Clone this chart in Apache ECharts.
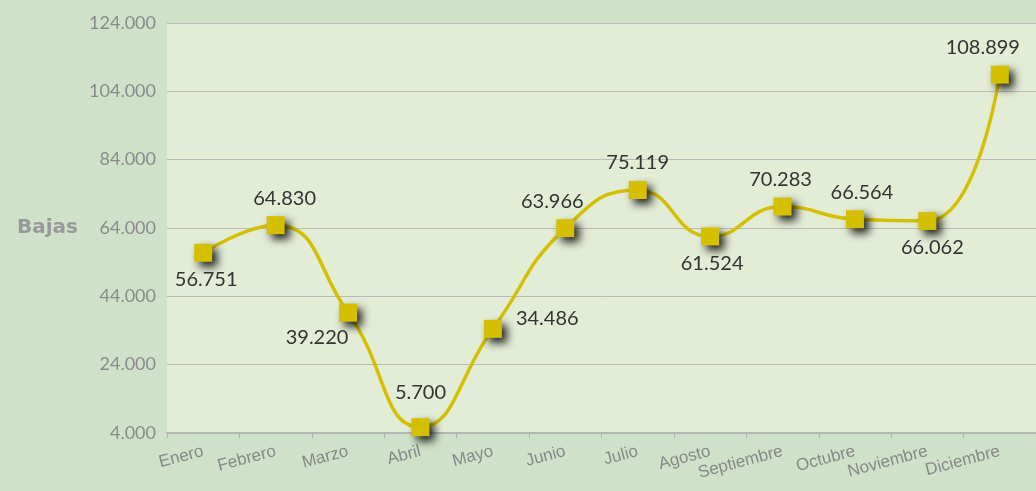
<!DOCTYPE html>
<html>
<head>
<meta charset="utf-8">
<script src="https://cdn.jsdelivr.net/npm/echarts@6/dist/echarts.min.js"></script>
<style>
  html, body { margin: 0; padding: 0; background: #cfe2c9; }
  #chart { width: 1036px; height: 491px; }
</style>
</head>
<body>
<div id="chart"></div>
<script>
// datos
var meses = ['Enero', 'Febrero', 'Marzo', 'Abril', 'Mayo', 'Junio', 'Julio', 'Agosto', 'Septiembre', 'Octubre', 'Noviembre', 'Diciembre']
var bajas = [56751, 64830, 39220, 5700, 34486, 63966, 75119, 61524, 70283, 66564, 66062, 108899]
// posicion de cada etiqueta
var labelPos = ['bottom', 'top', 'bottom', 'top', 'right', 'top', 'top', 'bottom', 'top', 'top', 'bottom', 'top']
var labelOff = [[3, 0], [9, 0], [-31, -2], [0, -8], [6, -10], [-13, 0], [0, 0], [2, 0], [-2, 0], [7, 0], [5, 0], [-17, 0]]

function fmt(v) {
  return String(v).replace(/\B(?=(\d{3})+(?!\d))/g, '.')
}

var seriesData = bajas.map(function (v, i) {
  return {
    value: v,
    label: { position: labelPos[i], offset: labelOff[i] }
  }
})

var chart = echarts.init(document.getElementById('chart'))
chart.setOption({
  backgroundColor: '#cfe2c9',
  animation: false,
  grid: {
    left: 167, right: 0, top: 23, bottom: 58,
    outerBoundsMode: 'none',
    show: true,
    backgroundColor: '#e3ecd5',
    borderWidth: 0
  },
  xAxis: {
    type: 'category',
    data: meses,
    axisLine: { lineStyle: { color: '#b5b5b5', width: 2 } },
    axisTick: { show: true, length: 5, lineStyle: { color: '#b5b5b5' } },
    axisLabel: {
      rotate: 15,
      color: '#888',
      fontFamily: 'Liberation Sans',
      fontSize: 17,
      margin: 18,
      interval: 0
    }
  },
  yAxis: {
    type: 'value',
    min: 4000,
    max: 124000,
    interval: 20000,
    name: 'Bajas',
    nameLocation: 'middle',
    nameRotate: 0,
    nameGap: 89,
    nameTextStyle: { color: '#999', fontWeight: 'bold', fontSize: 20, fontFamily: 'DejaVu Sans' },
    axisLine: { show: false },
    axisTick: { show: false },
    splitLine: { lineStyle: { color: '#b9b9b9', width: 1 } },
    axisLabel: {
      color: '#8a8a8a',
      fontSize: 18,
      fontFamily: 'Lato',
      margin: 11,
      formatter: fmt
    }
  },
  series: [{
    type: 'line',
    data: seriesData,
    smooth: 0.5,
    symbol: 'rect',
    symbolSize: 18,
    lineStyle: { color: '#d4c000', width: 3.5 },
    itemStyle: {
      color: '#d4c000',
      shadowColor: 'rgba(0,0,0,0.85)',
      shadowBlur: 9,
      shadowOffsetX: 5,
      shadowOffsetY: 5
    },
    label: {
      show: true,
      color: '#333',
      fontSize: 20,
      fontFamily: 'Lato',
      distance: 8,
      formatter: function (p) { return fmt(p.value) }
    }
  }]
})
</script>
</body>
</html>
